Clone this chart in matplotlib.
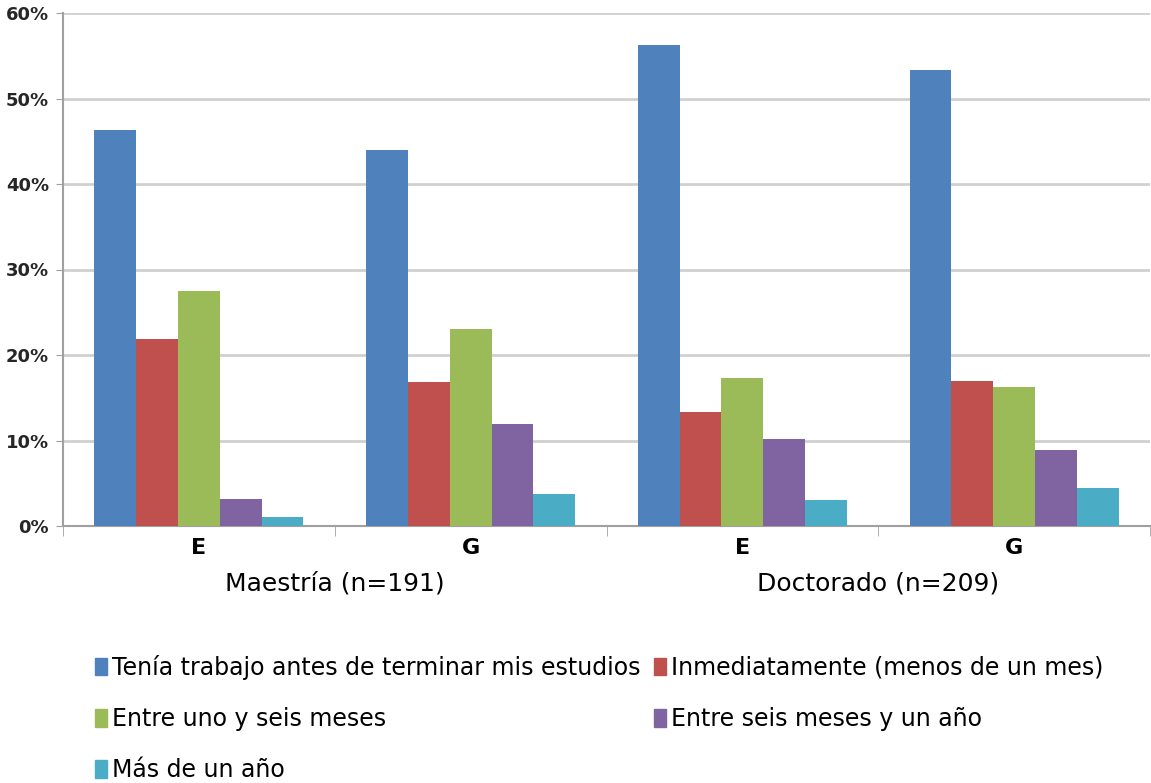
import numpy as np
import matplotlib
matplotlib.use('Agg')
import matplotlib.pyplot as plt
import matplotlib.transforms as mtransforms
from matplotlib.patches import Patch

plt.rcParams['font.family'] = ['DejaVu Sans']

categories = ['E', 'G', 'E', 'G']
groups = ['Maestría (n=191)', 'Doctorado (n=209)']
series = ['Tenía trabajo antes de terminar mis estudios',
          'Inmediatamente (menos de un mes)',
          'Entre uno y seis meses',
          'Entre seis meses y un año',
          'Más de un año']
tenia = [0.463, 0.440, 0.562, 0.533]
inmediatamente = [0.219, 0.169, 0.133, 0.170]
uno_seis = [0.275, 0.230, 0.173, 0.162]
seis_anio = [0.032, 0.119, 0.102, 0.089]
mas_anio = [0.011, 0.038, 0.030, 0.044]
colors = ['#4F81BD', '#C0504D', '#9BBB59', '#8064A2', '#4BACC6']

values = [tenia, inmediatamente, uno_seis, seis_anio, mas_anio]

fig = plt.figure(figsize=(11.51, 7.83), dpi=100)
ax = fig.add_axes([63 / 1151, 1 - 526 / 783, 1087 / 1151, 513 / 783])

x = np.arange(len(categories))
w = 0.154
for i, (vals, c) in enumerate(zip(values, colors)):
    ax.bar(x + (i - 2) * w, vals, width=w, color=c, edgecolor='none', zorder=3)

ax.set_xlim(-0.5, 3.5)
ax.set_ylim(0, 0.6)
ax.set_yticks(np.arange(0, 0.61, 0.1))
ax.set_yticklabels(['{:.0%}'.format(v) for v in np.arange(0, 0.61, 0.1)],
                   fontsize=13, fontweight='bold', color='#262626')
ax.yaxis.grid(True, color='#D0D0D0', linewidth=2, zorder=0)
ax.tick_params(axis='y', length=5, color='#A0A0A0', pad=5)

ax.set_xticks(x)
ax.set_xticklabels(categories, fontsize=16, fontweight='bold', color='black')
ax.tick_params(axis='x', length=0, pad=9)
ax.set_xticks([-0.5, 0.5, 1.5, 2.5, 3.5], minor=True)
ax.tick_params(axis='x', which='minor', length=7, color='#A0A0A0')

for s in ['top', 'right']:
    ax.spines[s].set_visible(False)
for s in ['left', 'bottom']:
    ax.spines[s].set_color('#A0A0A0')
    ax.spines[s].set_linewidth(1.5)

trans = mtransforms.blended_transform_factory(ax.transData, ax.transAxes)
for gx, g in zip([0.5, 2.5], groups):
    ax.text(gx, -0.112, g, transform=trans, ha='center', va='center', fontsize=18, color='black')

handles = [Patch(color=c) for c in colors]
order = [0, 2, 4, 1, 3]
fig.legend([handles[i] for i in order], [series[i] for i in order],
           ncol=2, loc='upper left', bbox_to_anchor=(95 / 1151, 1 - 655 / 783),
           frameon=False, fontsize=17, handlelength=0.5, handleheight=0.75,
           handletextpad=0.2, labelspacing=1.15, columnspacing=0.6, borderpad=0,
           borderaxespad=0)

fig.savefig('out.png', dpi=100)
